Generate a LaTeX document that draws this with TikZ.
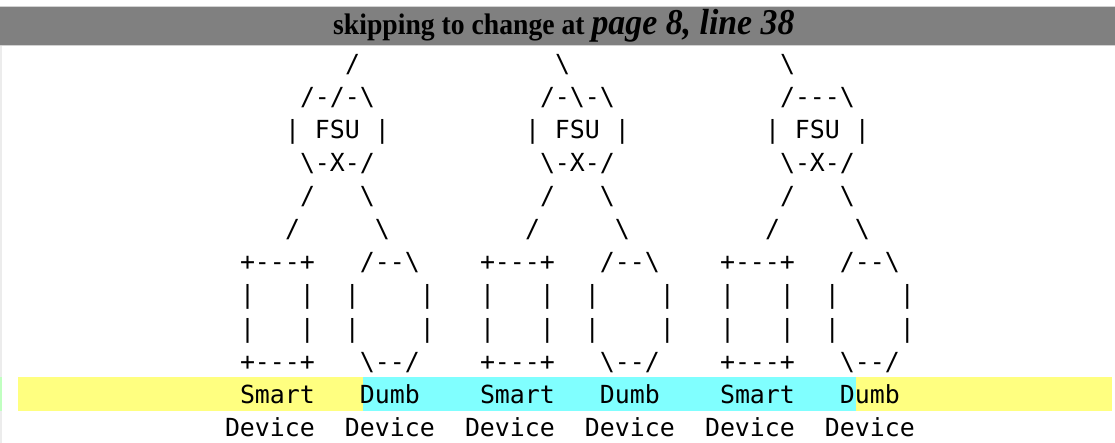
\documentclass[tikz,border=0pt]{standalone}
\usepackage{fontspec}
\setmainfont{Liberation Serif}
\setmonofont{DejaVu Sans Mono}
\newcommand\bsl{\textbackslash}
\definecolor{hdrgray}{HTML}{808080}
\definecolor{chgyellow}{HTML}{FFFF80}
\definecolor{chgcyan}{HTML}{80FFFF}
\definecolor{sidegreen}{HTML}{C0FFC0}
\tikzset{
	ascii/.style={font=\ttfamily\fontsize{24.9}{33}\selectfont, inner sep=0pt, outer sep=0pt, anchor=base west},
}
\begin{document}
\begin{tikzpicture}[x=1pt,y=-1pt]
			\useasboundingbox (0,0) rectangle (1115,443);
			\fill[gray!35] (0,6) rectangle (1115,46);
			\fill[hdrgray] (0,7) rectangle (1115,45);
			\fill[gray!15] (0,46) rectangle (2,443);
			\fill[chgyellow] (18,377) rectangle (1112,411);
			\fill[chgcyan] (363,377) rectangle (856,411);
			\fill[sidegreen] (0,377) rectangle (2,411);
	
			\node[inner sep=0pt, anchor=base west, xscale=1.025, yscale=1.1, font=\bfseries\fontsize{27}{30}\selectfont] (hdr) at (333,35)
				{skipping to change at \textit{\fontsize{33}{33}\selectfont page 8, line 38}};
	
			\node[ascii] (up0) at (345,73) {/};
			\node[ascii] (up1) at (555,73) {\bsl};
			\node[ascii] (up2) at (780,73) {\bsl};
			\node[ascii] (cap0) at (300,106) {/-/-\bsl};
			\node[ascii] (cap1) at (540,106) {/-\bsl-\bsl};
			\node[ascii] (cap2) at (780,106) {/---\bsl};
	
			\foreach \t in {0,1,2}{
				\node[ascii] (fsu\t) at ({285+240*\t},139) {|~FSU~|};
				\node[ascii] (cup\t) at ({300+240*\t},172) {\bsl-X-/};
				\node[ascii] (legA\t) at ({300+240*\t},205) {/~~~\bsl};
				\node[ascii] (legB\t) at ({285+240*\t},238) {/~~~~~\bsl};
				\node[ascii] (top\t) at ({240+240*\t},271) {+---+~~~/--\bsl};
				\node[ascii] (sideA\t) at ({240+240*\t},304) {|~~~|~~|~~~~|};
				\node[ascii] (sideB\t) at ({240+240*\t},337) {|~~~|~~|~~~~|};
				\node[ascii] (bot\t) at ({240+240*\t},370) {+---+~~~\bsl--/};
				\node[ascii] (kind\t) at ({240+240*\t},403) {Smart~~~Dumb};
				\node[ascii] (dev\t) at ({225+240*\t},436) {Device~~Device};
			}
		\end{tikzpicture}
\end{document}
